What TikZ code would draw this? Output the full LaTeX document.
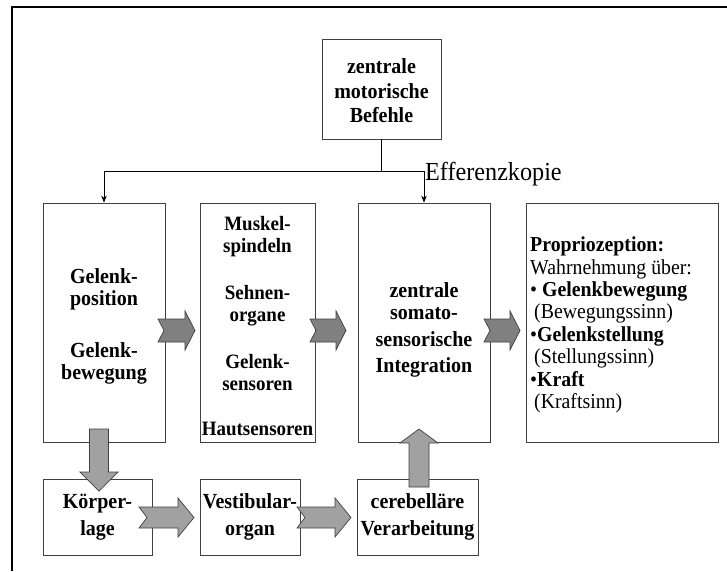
\documentclass[tikz,border=0pt]{standalone}
\usepackage{fontspec}
\setmainfont[FakeStretch=0.93]{Liberation Serif}
\usetikzlibrary{arrows.meta}
\tikzset{
  box/.style={draw=black!75, line width=0.8pt, fill=white, inner sep=0pt, align=center,
    font=\fontsize{21.5}{22}\selectfont\bfseries},
  conn/.style={draw=black, line width=0.8pt, -{Stealth[length=7pt,width=5.5pt]}},
  darkarrow/.style={draw=black!75, line width=0.7pt, fill=black!50},
  lightarrow/.style={draw=black!75, line width=0.7pt, fill=black!37},
  pics/notched/.style n args={6}{code={
    \filldraw[#6] (0,-#3) -- ({#1-#2},-#3) -- ({#1-#2},-#4) -- (#1,0) -- ({#1-#2},#4) -- ({#1-#2},#3) -- (0,#3) -- (#5,0) -- cycle;
  }}
}
\begin{document}
\begin{tikzpicture}[x=1pt,y=-1pt]
\useasboundingbox (0,0) rectangle (727,571);
% frame
\draw[line width=2pt] (12,571) -- (12,6.5) -- (727,6.5);
% boxes
\node[box, minimum width=119, minimum height=100, font=\fontsize{21.5}{24.5}\selectfont\bfseries] (cmd) at (381.5,89) {\rule{0pt}{19pt}zentrale\\motorische\\Befehle};
\node[box, minimum width=122, minimum height=239] (gel) at (104,322.5) {\rule{0pt}{23pt}Gelenk-\\position\\[30pt]Gelenk-\\bewegung};
\node[box, minimum width=115, minimum height=239, font=\fontsize{20.4}{21.5}\selectfont\bfseries] (mus) at (257.5,322.5) {\rule{0pt}{22pt}Muskel-\\spindeln\\[26pt]Sehnen-\\organe\\[26pt]Gelenk-\\sensoren\\[24pt]Hautsensoren};
\node[box, minimum width=132, minimum height=239] (int) at (424,322.5) {\rule{0pt}{29pt}zentrale\\somato-\\[5pt]sensorische\\[4pt]Integration};
\node[box, minimum width=192, minimum height=239] (pro) at (622,322.5) {};
\node[anchor=west, inner sep=0pt, align=left, font=\fontsize{21.3}{22.4}\selectfont] (protext) at (530,325)
  {\textbf{Propriozeption:}\\Wahrnehmung über:\\• \textbf{Gelenkbewegung}\\\hspace*{4pt}(Bewegungssinn)\\•\textbf{Gelenkstellung}\\\hspace*{4pt}(Stellungssinn)\\•\textbf{Kraft}\\\hspace*{4pt}(Kraftsinn)};
\node[box, minimum width=109, minimum height=76, font=\fontsize{21.5}{27}\selectfont\bfseries] (koe) at (97.5,517) {Körper-\\lage};
\node[box, minimum width=100, minimum height=76, font=\fontsize{21.5}{27}\selectfont\bfseries] (ves) at (250,517) {Vestibular-\\organ};
\node[box, minimum width=121, minimum height=76, font=\fontsize{21.5}{27}\selectfont\bfseries] (cer) at (417.5,517) {cerebelläre\\Verarbeitung};
% connectors
\coordinate (j) at (cmd.south |- 0,171);
\draw[line width=0.8pt] (cmd.south) -- (j);
\draw[conn] (j) -| (gel.north);
\draw[conn] (j) -| (int.north);
\node[anchor=base west, inner sep=0pt, font=\fontsize{26}{28}\selectfont] (eff) at (425,180) {Efferenzkopie};
% block arrows, top row
\pic at (158,330.5) {notched={37}{10}{11.5}{19.5}{6}{darkarrow}};
\pic at (310,330.5) {notched={36}{10}{11.5}{19.5}{6}{darkarrow}};
\pic at (484,330.5) {notched={36}{10}{11.5}{19.5}{6}{darkarrow}};
% bottom row
\pic at (139,517.5) {notched={55}{16}{10.5}{19.5}{8}{lightarrow}};
\pic at (297,517.5) {notched={54}{16}{10.5}{19.5}{8}{lightarrow}};
% vertical arrows
\filldraw[lightarrow] (89.5,429) -- (108.5,429) -- (108.5,472) -- (118,472) -- (99,491) -- (80,472) -- (89.5,472) -- cycle;
\filldraw[lightarrow] (419,429) -- (438,443) -- (429,443) -- (429,487) -- (409,487) -- (409,443) -- (400,443) -- cycle;
\end{tikzpicture}
\end{document}
